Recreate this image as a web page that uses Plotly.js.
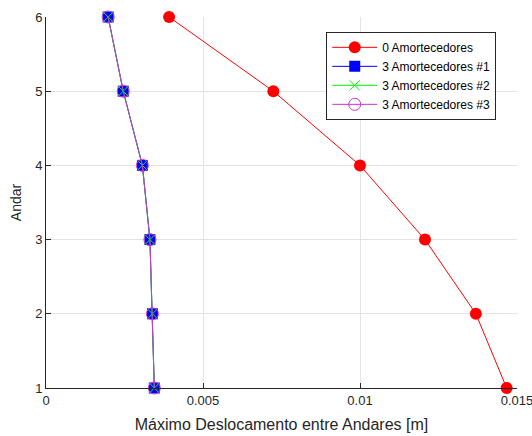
<!DOCTYPE html>
<html>
<head>
<meta charset="utf-8">
<script src="https://cdn.plot.ly/plotly-3.0.1.min.js"></script>
<style>html,body{margin:0;padding:0;background:#fff;}#chart{width:532px;height:436px;}</style>
</head>
<body>
<div id="chart"></div>
<script>
const andares = [1, 2, 3, 4, 5, 6];
const semAmortecedores = [0.01467, 0.01369, 0.01207, 0.01000, 0.00724, 0.00392];
const amort1 = [0.00345, 0.00339, 0.00331, 0.00307, 0.00246, 0.00198];
const amort2 = [0.00345, 0.00339, 0.00331, 0.00307, 0.00246, 0.00198];
const amort3 = [0.00345, 0.00339, 0.00331, 0.00307, 0.00246, 0.00198];
const seriesNames = ['0 Amortecedores', '3 Amortecedores #1', '3 Amortecedores #2', '3 Amortecedores #3'];
const xTickVals = [0, 0.005, 0.01, 0.015];
const xTickText = ['0', '0.005', '0.01', '0.015'];
const yTickVals = [1, 2, 3, 4, 5, 6];

const traces = [
  {x: semAmortecedores, y: andares, name: seriesNames[0], mode: 'lines+markers', cliponaxis: false,
   line: {color: '#ff0000', width: 1}, marker: {symbol: 'circle', size: 12, color: '#ff0000'}},
  {x: amort1, y: andares, name: seriesNames[1], mode: 'lines+markers', cliponaxis: false,
   line: {color: '#0000ff', width: 1}, marker: {symbol: 'square', size: 11, color: '#0000ff'}},
  {x: amort2, y: andares, name: seriesNames[2], mode: 'lines+markers', cliponaxis: false,
   line: {color: '#00ff00', width: 1}, marker: {symbol: 'x-thin-open', size: 10, color: '#00ff00', line: {color: '#00ff00', width: 1}}},
  {x: amort3, y: andares, name: seriesNames[3], mode: 'lines+markers', cliponaxis: false,
   line: {color: '#cc33cc', width: 1}, marker: {symbol: 'circle-open', size: 12, color: '#cc33cc', line: {color: '#cc33cc', width: 1}}}
];

const layout = {
  width: 532, height: 436,
  margin: {l: 46, r: 15, t: 17, b: 48},
  paper_bgcolor: '#ffffff', plot_bgcolor: '#ffffff',
  font: {family: 'Liberation Sans, Arial, sans-serif', size: 12, color: '#262626'},
  showlegend: true,
  legend: {x: 0.595, y: 0.96, xanchor: 'left', yanchor: 'top', bgcolor: '#ffffff',
    bordercolor: '#262626', borderwidth: 1, itemwidth: 45, font: {size: 12, color: '#000000'}},
  xaxis: {range: [0, 0.0150001], tickvals: xTickVals, ticktext: xTickText, ticklabeloverflow: 'allow',
    showgrid: true, gridcolor: '#e3e3e3', zeroline: false,
    showline: true, linecolor: '#262626', linewidth: 1, mirror: false,
    ticks: 'inside', ticklen: 5, tickcolor: '#262626',
    tickfont: {size: 13, color: '#262626'},
    title: {text: 'Máximo Deslocamento entre Andares [m]', font: {size: 16, color: '#262626'}, standoff: 12}},
  yaxis: {range: [1, 6], tickvals: yTickVals,
    showgrid: true, gridcolor: '#e3e3e3', zeroline: false,
    showline: true, linecolor: '#262626', linewidth: 1, mirror: false,
    ticks: 'inside', ticklen: 5, tickcolor: '#262626',
    tickfont: {size: 13, color: '#262626'},
    title: {text: 'Andar', font: {size: 14, color: '#262626'}, standoff: 10}}
};

Plotly.newPlot('chart', traces, layout, {displayModeBar: false, staticPlot: true});
</script>
</body>
</html>
